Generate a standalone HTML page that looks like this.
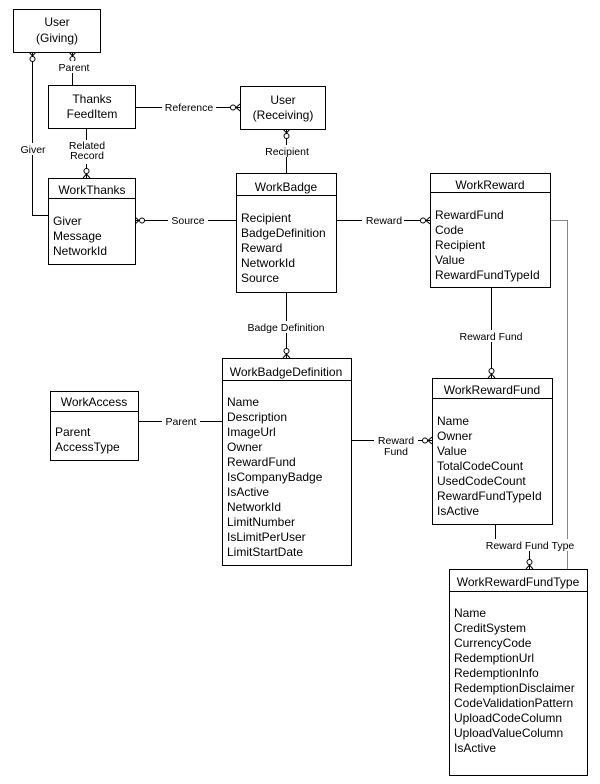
<!DOCTYPE html>
<html><head><style>
html,body{margin:0;padding:0;background:#fff}
svg{display:block;font-family:"Liberation Sans",Arial,sans-serif}
.b{fill:#fff;stroke:#000;stroke-width:1}
.l{stroke:#000;stroke-width:1;fill:none}
.t{font-size:12px;fill:#000}
.s{font-size:10.5px;fill:#000}
.c{fill:#fff;stroke:#000;stroke-width:1}
</style></head><body>
<svg width="600" height="784" viewBox="0 0 600 784" xmlns="http://www.w3.org/2000/svg">
<!-- connectors -->
<path class="l" d="M72.5 52V85"/>
<path class="l" d="M32.5 52V215.5H48"/>
<path class="l" d="M86.5 128V178"/>
<path class="l" d="M135 107.5H240"/>
<path class="l" d="M286.5 129V173"/>
<path class="l" d="M135 220.5H236"/>
<path class="l" d="M336 220.5H430"/>
<path class="l" d="M286.5 292V358"/>
<path class="l" d="M491.5 287V378"/>
<path class="l" d="M138 421.5H222"/>
<path class="l" d="M351 440.5H432"/>
<path class="l" d="M495.5 524V540M529.5 550V569"/>
<path d="M550 220.5H567.5V569" stroke="#888" fill="none"/>
<!-- circles / forks -->
<g class="l">
<path d="M29 52L32.5 56L36 52M69 52L72.5 56L76 52"/>
<path d="M83 178L86.5 174L90 178"/>
<path d="M240 104L236 107.5L240 111"/>
<path d="M283 129L286.5 133L290 129"/>
<path d="M135 217L139 220.5L135 224"/>
<path d="M430 217L426 220.5L430 224"/>
<path d="M283 358L286.5 354L290 358"/>
<path d="M488 378L491.5 374L495 378"/>
<path d="M432 437L428 440.5L432 444"/>
<path d="M526 569L529.5 565L533 569"/>
</g>
<circle class="c" cx="32.5" cy="59" r="2.5"/>
<circle class="c" cx="72.5" cy="59" r="2.5"/>
<circle class="c" cx="86.5" cy="171" r="2.5"/>
<circle class="c" cx="233" cy="107.5" r="2.5"/>
<circle class="c" cx="286.5" cy="136" r="2.5"/>
<circle class="c" cx="142" cy="220.5" r="2.5"/>
<circle class="c" cx="423" cy="220.5" r="2.5"/>
<circle class="c" cx="286.5" cy="351" r="2.5"/>
<circle class="c" cx="491.5" cy="371" r="2.5"/>
<circle class="c" cx="425" cy="440.5" r="2.5"/>
<circle class="c" cx="529.5" cy="562" r="2.5"/>
<!-- labels with bg -->
<g class="s">
<rect x="58" y="61" width="32" height="12" fill="#fff"/><text x="74" y="71" text-anchor="middle">Parent</text>
<rect x="18" y="143" width="30" height="12" fill="#fff"/><text x="33" y="153" text-anchor="middle">Giver</text>
<rect x="66" y="140" width="42" height="24" fill="#fff"/><text x="87" y="149" text-anchor="middle">Related</text><text x="87" y="159" text-anchor="middle">Record</text>
<rect x="162" y="101" width="54" height="12" fill="#fff"/><text x="189" y="111" text-anchor="middle">Reference</text>
<rect x="263" y="145" width="48" height="12" fill="#fff"/><text x="287" y="155" text-anchor="middle">Recipient</text>
<rect x="168" y="214" width="40" height="12" fill="#fff"/><text x="188" y="224" text-anchor="middle">Source</text>
<rect x="362" y="214" width="42" height="12" fill="#fff"/><text x="384" y="224" text-anchor="middle">Reward</text>
<rect x="244" y="321" width="84" height="12" fill="#fff"/><text x="286" y="331" text-anchor="middle">Badge Definition</text>
<rect x="456" y="330" width="70" height="12" fill="#fff"/><text x="491" y="340" text-anchor="middle">Reward Fund</text>
<rect x="162" y="415" width="38" height="12" fill="#fff"/><text x="181" y="425" text-anchor="middle">Parent</text>
<rect x="374" y="434" width="44" height="24" fill="#fff"/><text x="396" y="444" text-anchor="middle">Reward</text><text x="396" y="455" text-anchor="middle">Fund</text>
<rect x="482" y="539" width="96" height="12" fill="#fff"/><text x="530" y="549" text-anchor="middle">Reward Fund Type</text>
</g>
<!-- boxes -->
<rect class="b" x="13.5" y="9.5" width="87" height="43"/>
<text class="t" x="57" y="26" text-anchor="middle">User</text><text class="t" x="57" y="42" text-anchor="middle">(Giving)</text>
<rect class="b" x="48.5" y="85.5" width="87" height="43"/>
<text class="t" x="92" y="103" text-anchor="middle">Thanks</text><text class="t" x="92" y="118" text-anchor="middle">FeedItem</text>
<rect class="b" x="240.5" y="86.5" width="85" height="43"/>
<text class="t" x="283" y="104" text-anchor="middle">User</text><text class="t" x="283" y="119" text-anchor="middle">(Receiving)</text>

<rect class="b" x="48.5" y="178.5" width="87" height="86"/><path class="l" d="M48 198.5H135"/>
<text class="t" x="92" y="194" text-anchor="middle">WorkThanks</text>
<text class="t" x="53" y="225">Giver</text><text class="t" x="53" y="240">Message</text><text class="t" x="53" y="255">NetworkId</text>

<rect class="b" x="236.5" y="173.5" width="100" height="119"/><path class="l" d="M236 195.5H336"/>
<text class="t" x="286" y="191" text-anchor="middle">WorkBadge</text>
<text class="t" x="241" y="222">Recipient</text><text class="t" x="241" y="237">BadgeDefinition</text><text class="t" x="241" y="252">Reward</text><text class="t" x="241" y="267">NetworkId</text><text class="t" x="241" y="282">Source</text>

<rect class="b" x="430.5" y="173.5" width="120" height="114"/><path class="l" d="M430 192.5H550"/>
<text class="t" x="490" y="189" text-anchor="middle">WorkReward</text>
<text class="t" x="435" y="219">RewardFund</text><text class="t" x="435" y="234">Code</text><text class="t" x="435" y="249">Recipient</text><text class="t" x="435" y="264">Value</text><text class="t" x="435" y="279">RewardFundTypeId</text>

<rect class="b" x="50.5" y="391.5" width="88" height="69"/><path class="l" d="M50 411.5H138"/>
<text class="t" x="94" y="406" text-anchor="middle">WorkAccess</text>
<text class="t" x="55" y="436">Parent</text><text class="t" x="55" y="451">AccessType</text>

<rect class="b" x="222.5" y="358.5" width="129" height="207"/><path class="l" d="M222 380.5H351"/>
<text class="t" x="286" y="376" text-anchor="middle">WorkBadgeDefinition</text>
<g class="t"><text x="227" y="406">Name</text><text x="227" y="421">Description</text><text x="227" y="436">ImageUrl</text><text x="227" y="451">Owner</text><text x="227" y="466">RewardFund</text><text x="227" y="481">IsCompanyBadge</text><text x="227" y="496">IsActive</text><text x="227" y="511">NetworkId</text><text x="227" y="526">LimitNumber</text><text x="227" y="541">IsLimitPerUser</text><text x="227" y="556">LimitStartDate</text></g>

<rect class="b" x="432.5" y="378.5" width="120" height="146"/><path class="l" d="M432 398.5H552"/>
<text class="t" x="492" y="394" text-anchor="middle">WorkRewardFund</text>
<g class="t"><text x="437" y="425">Name</text><text x="437" y="440">Owner</text><text x="437" y="455">Value</text><text x="437" y="470">TotalCodeCount</text><text x="437" y="485">UsedCodeCount</text><text x="437" y="500">RewardFundTypeId</text><text x="437" y="515">IsActive</text></g>

<rect class="b" x="449.5" y="569.5" width="138" height="206"/><path class="l" d="M449 591.5H587"/>
<text class="t" x="518" y="586" text-anchor="middle">WorkRewardFundType</text>
<g class="t"><text x="454" y="617">Name</text><text x="454" y="632">CreditSystem</text><text x="454" y="647">CurrencyCode</text><text x="454" y="662">RedemptionUrl</text><text x="454" y="677">RedemptionInfo</text><text x="454" y="692">RedemptionDisclaimer</text><text x="454" y="707">CodeValidationPattern</text><text x="454" y="722">UploadCodeColumn</text><text x="454" y="737">UploadValueColumn</text><text x="454" y="752">IsActive</text></g>
</svg>
</body></html>
